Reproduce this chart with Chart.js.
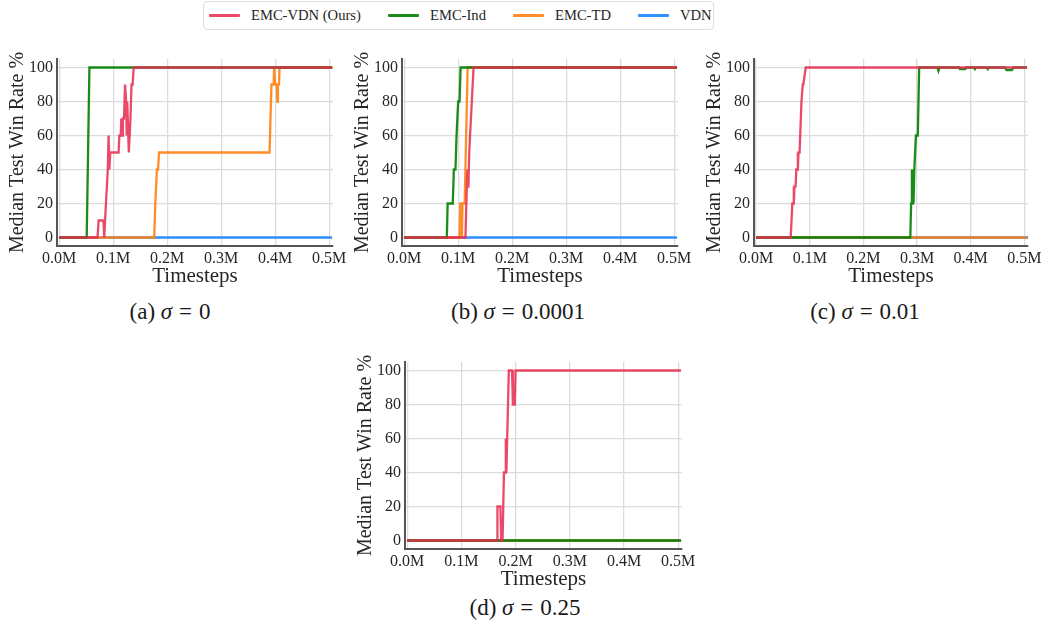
<!DOCTYPE html>
<html>
<head>
<meta charset="utf-8">
<script src="https://cdn.jsdelivr.net/npm/chart.js@4.4.1/dist/chart.umd.min.js"></script>
<style>
body { margin: 0; width: 1043px; height: 632px; background: #fff; position: relative; overflow: hidden;
       font-family: "Liberation Serif", "Times New Roman", serif; color: #262626; }
canvas { position: absolute; }
.cap { position: absolute; width: 300px; text-align: center; font-size: 23px; line-height: 26px; color: #1a1a1a; }
.cap .eq { margin: 0 0.3em; }
#legend { position: absolute; left: 203px; top: 1px; width: 509px; height: 27px; border: 1px solid #dedede; border-radius: 4px; }
.item { position: absolute; top: 0; height: 27px; display: flex; align-items: center; font-size: 14.6px; white-space: nowrap; }
.swatch { width: 31px; height: 3px; margin-right: 11px; border-radius: 1px; }
</style>
</head>
<body>
<div id="legend"></div>
<canvas id="chartA"></canvas>
<canvas id="chartB"></canvas>
<canvas id="chartC"></canvas>
<canvas id="chartD"></canvas>
<div class="cap" style="left:20px; top:299px;">(a) <i>σ</i><span class="eq">=</span>0</div>
<div class="cap" style="left:368px; top:299px;">(b) <i>σ</i><span class="eq">=</span>0.0001</div>
<div class="cap" style="left:715px; top:299px;">(c) <i>σ</i><span class="eq">=</span>0.01</div>
<div class="cap" style="left:375px; top:595px;">(d) <i>σ</i><span class="eq">=</span>0.25</div>
<script>
const SERIES = ['EMC-VDN (Ours)', 'EMC-Ind', 'EMC-TD', 'VDN'];
const COLORS = ['rgba(232,41,79,0.85)', 'rgba(0,128,0,0.9)', 'rgba(255,127,14,0.9)', 'rgba(26,133,255,0.9)'];
const X_TICKS = [0, 0.1, 0.2, 0.3, 0.4, 0.5];   // timesteps, millions
const Y_TICKS = [0, 20, 40, 60, 80, 100];

// points are [timesteps (M), median test win rate %]
// (a) sigma = 0
const a_emcvdn = [[0,0],[0.071,0],[0.073,10],[0.082,10],[0.0835,0],[0.085,10],[0.09,40],[0.0915,60],[0.093,40],[0.0945,50],
                  [0.11,50],[0.1115,60],[0.114,60],[0.115,70],[0.117,60],[0.118,70],[0.12,70],[0.122,90],[0.124,80],
                  [0.125,60],[0.126,80],[0.129,50],[0.132,70],[0.134,90],[0.136,90],[0.138,100],[0.505,100]];
const a_emcind = [[0,0],[0.051,0],[0.056,100],[0.505,100]];
const a_emctd = [[0,0],[0.176,0],[0.178,20],[0.181,40],[0.183,40],[0.185,50],[0.3895,50],[0.393,90],[0.397,90],
                 [0.398,100],[0.4,90],[0.403,90],[0.404,80],[0.405,90],[0.407,90],[0.408,100],[0.507,100]];
const a_vdn = [[0,0],[0.505,0]];

// (b) sigma = 0.0001
const b_emcvdn = [[0,0],[0.1135,0],[0.116,30],[0.117,40],[0.118,30],[0.119,30],[0.1205,50],[0.122,60],[0.1285,100],[0.505,100]];
const b_emcind = [[0,0],[0.079,0],[0.0805,20],[0.09,20],[0.092,40],[0.095,40],[0.097,60],[0.1,80],[0.1025,80],[0.1045,100],[0.505,100]];
const b_emctd = [[0,0],[0.1025,0],[0.104,20],[0.106,20],[0.107,0],[0.108,20],[0.112,20],[0.1175,100],[0.505,100]];
const b_vdn = [[0,0],[0.505,0]];

// (c) sigma = 0.01
const c_emcvdn = [[0,0],[0.0645,0],[0.0675,20],[0.069,20],[0.07,30],[0.0705,20],[0.0715,30],[0.0735,30],[0.075,40],
                  [0.0765,40],[0.0775,50],[0.078,40],[0.079,50],[0.081,50],[0.0845,80],[0.087,90],[0.088,90],[0.0925,100],[0.505,100]];
const c_emcind = [[0,0],[0.2875,0],[0.289,20],[0.2905,40],[0.291,20],[0.292,40],[0.2935,20],[0.295,40],[0.2955,40],[0.298,60],
                  [0.3015,60],[0.304,100],[0.338,100],[0.34,98],[0.342,100],[0.378,100],[0.38,99],[0.39,99],[0.392,100],
                  [0.406,100],[0.408,99],[0.41,100],[0.43,100],[0.432,99],[0.434,100],[0.464,100],[0.467,98.5],
                  [0.477,98.5],[0.48,100],[0.505,100]];
const c_emctd = [[0,0],[0.505,0]];
const c_vdn = [[0,0],[0.507,0]];

// (d) sigma = 0.25
const d_emcvdn = [[0,0],[0.166,0],[0.1665,20],[0.172,20],[0.1735,0],[0.176,0],[0.1785,40],[0.1805,40],[0.182,60],[0.183,40],
                  [0.1845,60],[0.1875,100],[0.1935,100],[0.195,80],[0.1985,80],[0.2,100],[0.505,100]];
const d_emcind = [[0,0],[0.505,0]];
const d_emctd = [[0,0],[0.505,0]];
const d_vdn = [[0,0],[0.505,0]];

const FONT = '"Liberation Serif", "Times New Roman", serif';
const TEXT = '#262626';

// legend
const legendLeft = [5, 184, 309, 434];
const legend = document.getElementById('legend');
SERIES.forEach((name, i) => {
    const item = document.createElement('div');
    item.className = 'item';
    item.style.left = legendLeft[i] + 'px';
    item.innerHTML = '<span class="swatch" style="background:' + COLORS[i] + '"></span>' + name;
    legend.appendChild(item);
});

function makeChart(id, series, area) {
    const W = 55, H = 45, PT = 16, PR = 28;
    const canvas = document.getElementById(id);
    canvas.width = W + (area.r - area.l) + PR;
    canvas.height = PT + (area.b - area.t) + H;
    canvas.style.left = (area.l - W) + 'px';
    canvas.style.top = (area.t - PT) + 'px';

    new Chart(canvas, {
        type: 'line',
        data: {
            datasets: series.map((pts, i) => ({
                label: SERIES[i],
                data: pts.map(p => ({ x: p[0], y: p[1] })),
                borderColor: COLORS[i],
                borderWidth: 2.3,
                pointRadius: 0,
                tension: 0,
                fill: false
            }))
        },
        options: {
            responsive: false,
            animation: false,
            layout: { padding: { left: 0, top: PT, right: PR, bottom: 0 } },
            plugins: { legend: { display: false }, tooltip: { enabled: false } },
            scales: {
                x: {
                    type: 'linear', min: -0.004, max: 0.507,
                    afterBuildTicks: s => { s.ticks = X_TICKS.map(v => ({ value: v })); },
                    afterFit: s => { s.height = H; },
                    ticks: { callback: v => v.toFixed(1) + 'M', font: { family: FONT, size: 16 }, color: TEXT,
                             padding: 3, maxRotation: 0, autoSkip: false },
                    grid: { color: '#dcdcdc', lineWidth: 1.3, drawTicks: false },
                    border: { color: '#555', width: 2 },
                    title: { display: true, text: 'Timesteps', font: { family: FONT, size: 21 }, color: TEXT,
                             padding: { top: 0, bottom: 2 } }
                },
                y: {
                    min: -5, max: 105,
                    afterBuildTicks: s => { s.ticks = Y_TICKS.map(v => ({ value: v })); },
                    afterFit: s => { s.width = W; },
                    ticks: { font: { family: FONT, size: 16 }, color: TEXT, padding: 4 },
                    grid: { color: '#dcdcdc', lineWidth: 1.3, drawTicks: false },
                    border: { color: '#555', width: 2 },
                    title: { display: true, text: 'Median Test Win Rate %', font: { family: FONT, size: 20 }, color: TEXT,
                             padding: { top: 4, bottom: 0 } }
                }
            }
        }
    });
}

makeChart('chartA', [a_emcvdn, a_emcind, a_emctd, a_vdn], { l: 57, t: 59, r: 333, b: 246 });
makeChart('chartB', [b_emcvdn, b_emcind, b_emctd, b_vdn], { l: 402, t: 59, r: 678, b: 246 });
makeChart('chartC', [c_emcvdn, c_emcind, c_emctd, c_vdn], { l: 754, t: 59, r: 1028, b: 246 });
makeChart('chartD', [d_emcvdn, d_emcind, d_emctd, d_vdn], { l: 405, t: 362, r: 682, b: 549 });
</script>
</body>
</html>
